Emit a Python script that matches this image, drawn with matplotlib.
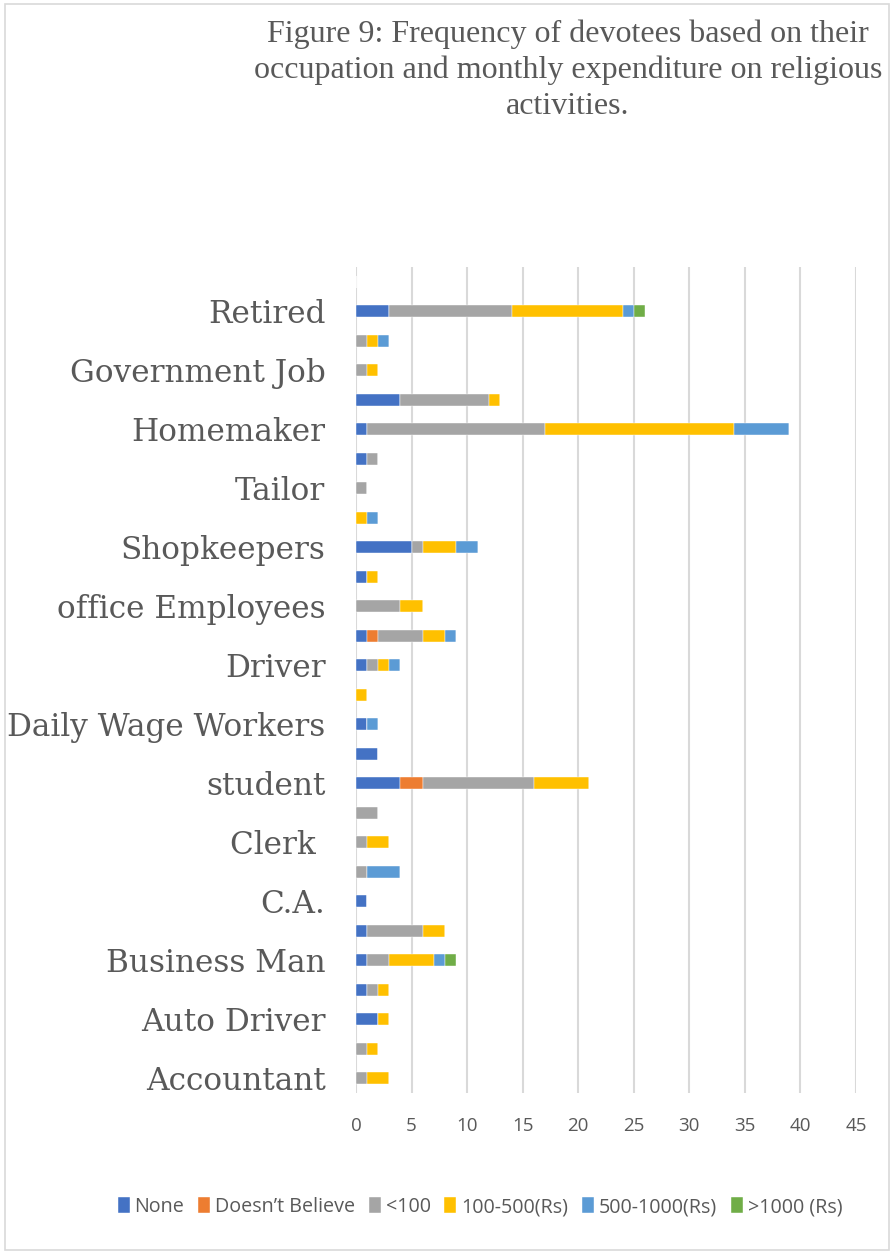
import matplotlib
matplotlib.use("Agg")
import matplotlib.pyplot as plt
from matplotlib.patches import Rectangle
import numpy as np

# Occupations, bottom row first (rows without a printed name are left blank)
occupations = [
    "Accountant", "", "Auto Driver", "", "Business Man", "", "C.A.", "",
    "Clerk ", "", "student", "", "Daily Wage Workers", "", "Driver", "",
    "office Employees", "", "Shopkeepers", "", "Tailor", "", "Homemaker", "",
    "Government Job", "", "Retired", "",
]

series_names = ["None", "Doesn\u2019t Believe", "<100", "100-500(Rs)",
                "500-1000(Rs)", ">1000 (Rs)"]
series_colors = ["#4472C4", "#ED7D31", "#A5A5A5", "#FFC000", "#5B9BD5", "#70AD47"]

none_vals =      [0, 0, 2, 1, 1, 1, 1, 0, 0, 0, 4, 2, 1, 0, 1, 1, 0, 1, 5, 0, 0, 1, 1, 4, 0, 0, 3, 0]
not_believe =    [0, 0, 0, 0, 0, 0, 0, 0, 0, 0, 2, 0, 0, 0, 0, 1, 0, 0, 0, 0, 0, 0, 0, 0, 0, 0, 0, 0]
below_100 =      [1, 1, 0, 1, 2, 5, 0, 1, 1, 2, 10, 0, 0, 0, 1, 4, 4, 0, 1, 0, 1, 1, 16, 8, 1, 1, 11, 0]
rs_100_500 =     [2, 1, 1, 1, 4, 2, 0, 0, 2, 0, 5, 0, 0, 1, 1, 2, 2, 1, 3, 1, 0, 0, 17, 1, 1, 1, 10, 0]
rs_500_1000 =    [0, 0, 0, 0, 1, 0, 0, 3, 0, 0, 0, 0, 1, 0, 1, 1, 0, 0, 2, 1, 0, 0, 5, 0, 0, 1, 1, 0]
above_1000 =     [0, 0, 0, 0, 1, 0, 0, 0, 0, 0, 0, 0, 0, 0, 0, 0, 0, 0, 0, 0, 0, 0, 0, 0, 0, 0, 1, 0]

series_values = [none_vals, not_believe, below_100, rs_100_500, rs_500_1000, above_1000]

x_ticks = [0, 5, 10, 15, 20, 25, 30, 35, 40, 45]

fig = plt.figure(figsize=(8.94, 12.54), dpi=100)
fig.patch.set_facecolor("white")

# outer chart border
fig.patches.append(Rectangle((5 / 894, 4 / 1254), 884 / 894, 1246 / 1254,
                             transform=fig.transFigure, fill=False,
                             edgecolor="#D9D9D9", linewidth=1.2))

ax = fig.add_axes([356 / 894, 1 - 1093 / 1254, 500 / 894, (1093 - 267) / 1254])

y = np.arange(len(occupations))
left = np.zeros(len(occupations))
for name, vals, color in zip(series_names, series_values, series_colors):
    vals = np.array(vals, dtype=float)
    ax.barh(y, vals, left=left, height=0.4, color=color, label=name,
            edgecolor="white", linewidth=0.3, zorder=3)
    left += vals

ax.set_xlim(0, 45)
ax.set_ylim(-0.5, len(occupations) - 0.5)
ax.set_xticks(x_ticks)
ax.set_xticklabels([str(t) for t in x_ticks], fontsize=13.5, color="#595959",
                   family=["Open Sans", "DejaVu Sans"])
ax.set_yticks(y[::2])
ax.set_yticklabels(occupations[::2], fontsize=22.4, color="#595959",
                   family=["DejaVu Serif"])
ax.tick_params(axis="both", length=0)
ax.tick_params(axis="x", pad=17)
ax.tick_params(axis="y", pad=22)
ax.grid(axis="x", color="#D9D9D9", linewidth=1.5, zorder=0)
for s in ax.spines.values():
    s.set_visible(False)

fig.text(568 / 894, 1 - 70 / 1254,
         "Figure 9: Frequency of devotees based on their\n"
         "occupation and monthly expenditure on religious\n"
         "activities.",
         ha="center", va="center", fontsize=23, color="#595959",
         family=["Liberation Serif", "DejaVu Serif"], linespacing=1.3)

leg = fig.legend(loc="center", bbox_to_anchor=(480 / 894, 1 - 1207 / 1254),
                 ncol=6, frameon=False, handlelength=0.6,
                 handleheight=0.9, handletextpad=0.25, columnspacing=0.7,
                 prop={"family": ["Open Sans", "DejaVu Sans"], "size": 14.2})
for t in leg.get_texts():
    t.set_color("#595959")

fig.savefig("out.png", dpi=100, facecolor="white")
